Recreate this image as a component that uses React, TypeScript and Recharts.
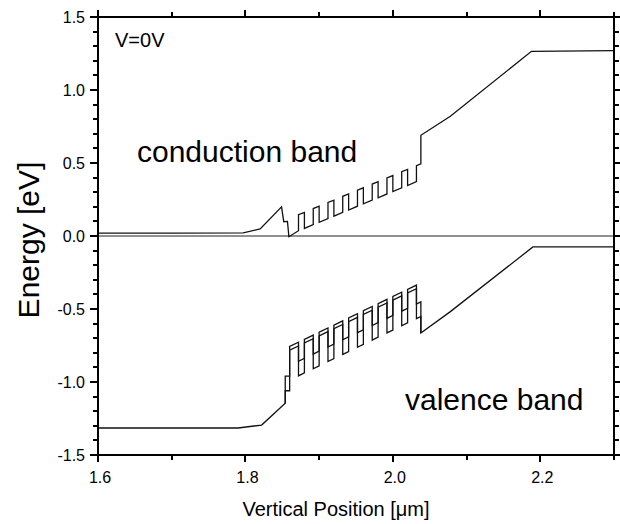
import { LineChart, Line, XAxis, YAxis } from 'recharts';

const FONT = '"Liberation Sans", Arial, Helvetica, sans-serif';

// axis ticks
const X_TICKS = [1.6, 1.7, 1.8, 1.9, 2.0, 2.1, 2.2, 2.3];
const X_LABELED = [1.6, 1.8, 2.0, 2.2];
const Y_TICKS = [
  -1.5, -1.4, -1.3, -1.2, -1.1, -1.0, -0.9, -0.8, -0.7, -0.6, -0.5, -0.4, -0.3, -0.2, -0.1, 0,
  0.1, 0.2, 0.3, 0.4, 0.5, 0.6, 0.7, 0.8, 0.9, 1.0, 1.1, 1.2, 1.3, 1.4, 1.5,
];
const Y_LABELED = [-1.5, -1.0, -0.5, 0, 0.5, 1.0, 1.5];

// reference (0 eV) line
const REF_POS = [1.6, 2.3];
const REF_EN = [0, 0];

// conduction band
const CB_POS = [
  1.6, 1.7, 1.797, 1.82, 1.849, 1.852, 1.857, 1.859, 1.872,
  1.872, 1.88, 1.88, 1.892,
  1.892, 1.9, 1.9, 1.912,
  1.912, 1.92, 1.92, 1.932,
  1.932, 1.94, 1.94, 1.952,
  1.952, 1.96, 1.96, 1.972,
  1.972, 1.98, 1.98, 1.992,
  1.992, 2.0, 2.0, 2.012,
  2.012, 2.02, 2.02, 2.032,
  2.032, 2.038, 2.038, 2.078, 2.188, 2.3,
];
const CB_EN = [
  0.02, 0.02, 0.022, 0.048, 0.2, 0.098, 0.1, -0.005, 0.036,
  0.146, 0.162, 0.052, 0.078,
  0.188, 0.204, 0.094, 0.12,
  0.23, 0.246, 0.136, 0.162,
  0.272, 0.288, 0.178, 0.204,
  0.314, 0.33, 0.22, 0.246,
  0.356, 0.372, 0.262, 0.288,
  0.398, 0.414, 0.304, 0.33,
  0.44, 0.456, 0.346, 0.372,
  0.482, 0.494, 0.69, 0.82, 1.265, 1.27,
];

// valence band, heavy holes
const HH_POS = [
  1.6, 1.79, 1.822, 1.854, 1.854, 1.86,
  1.86, 1.872, 1.872, 1.88,
  1.88, 1.892, 1.892, 1.9,
  1.9, 1.912, 1.912, 1.92,
  1.92, 1.932, 1.932, 1.94,
  1.94, 1.952, 1.952, 1.96,
  1.96, 1.972, 1.972, 1.98,
  1.98, 1.992, 1.992, 2.0,
  2.0, 2.012, 2.012, 2.02,
  2.02, 2.032, 2.032, 2.038,
  2.038, 2.078, 2.19, 2.3,
];
const HH_EN = [
  -1.315, -1.315, -1.295, -1.145, -1.06, -1.06,
  -0.757, -0.728, -0.958, -0.938,
  -0.708, -0.679, -0.909, -0.889,
  -0.659, -0.63, -0.86, -0.84,
  -0.61, -0.581, -0.811, -0.791,
  -0.561, -0.532, -0.762, -0.742,
  -0.512, -0.483, -0.713, -0.693,
  -0.463, -0.434, -0.664, -0.644,
  -0.414, -0.385, -0.615, -0.595,
  -0.365, -0.336, -0.566, -0.551,
  -0.665, -0.518, -0.075, -0.075,
];

// valence band, light holes (only where it splits from HH)
const LH_POS = [
  1.854, 1.854, 1.86,
  1.86, 1.872, 1.872, 1.88,
  1.88, 1.892, 1.892, 1.9,
  1.9, 1.912, 1.912, 1.92,
  1.92, 1.932, 1.932, 1.94,
  1.94, 1.952, 1.952, 1.96,
  1.96, 1.972, 1.972, 1.98,
  1.98, 1.992, 1.992, 2.0,
  2.0, 2.012, 2.012, 2.02,
  2.02, 2.032, 2.032, 2.038,
  2.038,
];
const LH_EN = [
  -1.145, -0.96, -0.96,
  -0.782, -0.753, -0.858, -0.838,
  -0.733, -0.704, -0.809, -0.789,
  -0.684, -0.655, -0.76, -0.74,
  -0.635, -0.606, -0.711, -0.691,
  -0.586, -0.557, -0.662, -0.642,
  -0.537, -0.508, -0.613, -0.593,
  -0.488, -0.459, -0.564, -0.544,
  -0.439, -0.41, -0.515, -0.495,
  -0.39, -0.361, -0.466, -0.451,
  -0.665,
];

const zip = (xs: number[], ys: number[]) => xs.map((x, i) => ({ x, e: ys[i] }));

const refData = zip(REF_POS, REF_EN);
const cbData = zip(CB_POS, CB_EN);
const hhData = zip(HH_POS, HH_EN);
const lhData = zip(LH_POS, LH_EN);

const inList = (list: number[], v: number) => list.some((t) => Math.abs(t - v) < 1e-6);

const TICK_W = 2;

function BottomTick(props: any) {
  const { x, y, payload } = props;
  const major = inList(X_LABELED, payload.value);
  return (
    <g>
      <line
        x1={x}
        y1={y}
        x2={x}
        y2={y + (major ? 7 : 5)}
        stroke="#000"
        strokeWidth={TICK_W}
        shapeRendering="crispEdges"
      />
      {major && (
        <text x={x + 2} y={y + 28} textAnchor="middle" fontSize={16} fontFamily={FONT} fill="#000">
          {payload.value.toFixed(1)}
        </text>
      )}
    </g>
  );
}

function TopTick(props: any) {
  const { x, y, payload } = props;
  const major = inList(X_LABELED, payload.value);
  return (
    <line
      x1={x}
      y1={y}
      x2={x}
      y2={y - (major ? 7 : 5)}
      stroke="#000"
      strokeWidth={TICK_W}
      shapeRendering="crispEdges"
    />
  );
}

function LeftTick(props: any) {
  const { x, y, payload } = props;
  const major = inList(Y_LABELED, payload.value);
  return (
    <g>
      <line
        x1={x}
        y1={y}
        x2={x - (major ? 8 : 5)}
        y2={y}
        stroke="#000"
        strokeWidth={TICK_W}
        shapeRendering="crispEdges"
      />
      {major && (
        <text x={x - 13} y={y + 5.7} textAnchor="end" fontSize={16} fontFamily={FONT} fill="#000">
          {payload.value.toFixed(1)}
        </text>
      )}
    </g>
  );
}

function RightTick(props: any) {
  const { x, y, payload } = props;
  const major = inList(Y_LABELED, payload.value);
  return (
    <line
      x1={x}
      y1={y}
      x2={x + (major ? 7 : 4.5)}
      y2={y}
      stroke="#000"
      strokeWidth={TICK_W}
      shapeRendering="crispEdges"
    />
  );
}

const axisLine = { stroke: '#000', strokeWidth: 2, shapeRendering: 'crispEdges' };

export default function App() {
  return (
    <div style={{ position: 'absolute', left: 0, top: 0, width: 620, height: 524, background: '#fff' }}>
      <LineChart width={620} height={524} margin={{ top: 16, right: 5, bottom: 0, left: 0 }}>
        <XAxis
          xAxisId={0}
          dataKey="x"
          type="number"
          domain={[1.6, 2.3]}
          allowDataOverflow
          ticks={X_TICKS}
          interval={0}
          tickSize={0}
          tickMargin={0}
          tickLine={false}
          tick={BottomTick}
          axisLine={axisLine}
          stroke="#000"
          height={69}
        />
        <XAxis
          xAxisId="top"
          orientation="top"
          dataKey="x"
          type="number"
          domain={[1.6, 2.3]}
          allowDataOverflow
          ticks={X_TICKS}
          interval={0}
          tickSize={0}
          tickMargin={0}
          tickLine={false}
          tick={TopTick}
          axisLine={axisLine}
          stroke="#000"
          height={1}
        />
        <YAxis
          yAxisId={0}
          type="number"
          domain={[-1.5, 1.5]}
          allowDataOverflow
          ticks={Y_TICKS}
          interval={0}
          tickSize={0}
          tickMargin={0}
          tickLine={false}
          tick={LeftTick}
          axisLine={axisLine}
          stroke="#000"
          width={98}
        />
        <YAxis
          yAxisId="right"
          orientation="right"
          type="number"
          domain={[-1.5, 1.5]}
          allowDataOverflow
          ticks={Y_TICKS}
          interval={0}
          tickSize={0}
          tickMargin={0}
          tickLine={false}
          tick={RightTick}
          axisLine={axisLine}
          stroke="#000"
          width={1}
        />
        <Line
          xAxisId="top"
          yAxisId="right"
          data={refData}
          dataKey="e"
          type="linear"
          stroke="#222"
          strokeWidth={1.1}
          dot={false}
          activeDot={false}
          isAnimationActive={false}
        />
        <Line
          data={cbData}
          dataKey="e"
          type="linear"
          stroke="#111"
          strokeWidth={1.3}
          dot={false}
          activeDot={false}
          isAnimationActive={false}
        />
        <Line
          data={hhData}
          dataKey="e"
          type="linear"
          stroke="#111"
          strokeWidth={1.3}
          dot={false}
          activeDot={false}
          isAnimationActive={false}
        />
        <Line
          data={lhData}
          dataKey="e"
          type="linear"
          stroke="#111"
          strokeWidth={1.3}
          dot={false}
          activeDot={false}
          isAnimationActive={false}
        />
        <text x={115} y={46.5} fontSize={20} fontFamily={FONT} fill="#000">
          V=0V
        </text>
        <text x={137} y={162} fontSize={30} fontFamily={FONT} fill="#000">
          conduction band
        </text>
        <text x={405} y={410} fontSize={30} fontFamily={FONT} fill="#000">
          valence band
        </text>
        <text
          x={39}
          y={240}
          transform="rotate(-90 39 240)"
          textAnchor="middle"
          fontSize={30}
          fontFamily={FONT}
          fill="#000"
        >
          Energy [eV]
        </text>
        <text x={336} y={516} textAnchor="middle" fontSize={20} fontFamily={FONT} fill="#000">
          Vertical Position [μm]
        </text>
      </LineChart>
    </div>
  );
}
